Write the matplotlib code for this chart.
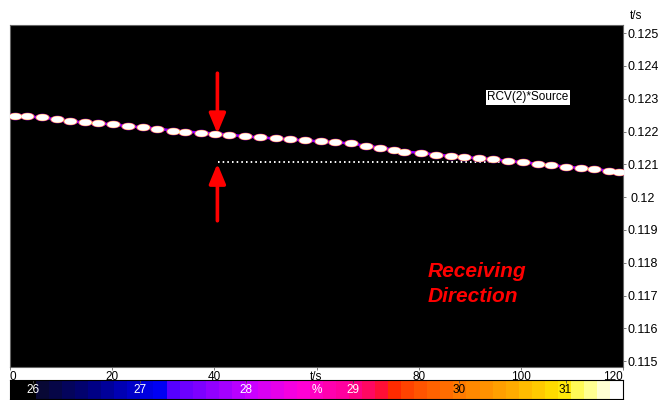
import numpy as np
import matplotlib.pyplot as plt
from matplotlib.colors import LinearSegmentedColormap, BoundaryNorm

plt.rcParams['font.family'] = ['Liberation Sans', 'DejaVu Sans']

# track of detected peaks (time axis, delay in s)
t_pts = [1.0, 3.3, 6.3, 9.2, 11.8, 14.7, 17.3, 20.2, 23.1, 26.1, 28.8, 32.0,
         34.3, 37.3, 40.2, 42.9, 46.1, 49.0, 52.0, 54.9, 57.8, 60.8, 63.7,
         66.7, 69.6, 72.5, 75.1, 77.1, 80.4, 83.3, 86.3, 88.8, 91.8, 94.5,
         97.5, 100.4, 103.3, 105.9, 108.8, 111.8, 114.3, 117.3, 119.2]
y_pts = [0.12249, 0.12246, 0.12243, 0.12237, 0.12231, 0.12228, 0.12225,
         0.12222, 0.12216, 0.12213, 0.12209, 0.12203, 0.12200, 0.12197,
         0.12194, 0.12191, 0.12185, 0.12182, 0.12179, 0.12176, 0.12173,
         0.12170, 0.12167, 0.12164, 0.12157, 0.12151, 0.12145, 0.12139,
         0.12135, 0.12130, 0.12126, 0.12122, 0.12119, 0.12115, 0.12111,
         0.12106, 0.12102, 0.12098, 0.12093, 0.12089, 0.12085, 0.12081,
         0.12078]

# reference level (dotted) and arrows
ref_t = [40.8, 98.4]
ref_y = [0.12106, 0.12106]
arrow_t = 40.6
arrow_down = (0.12378, 0.12194)   # tail, tip
arrow_up = (0.11928, 0.12102)

xticks = [0, 20, 40, 60, 80, 100, 120]
xticklabels = ['0', '20', '40', 't/s', '80', '100', '120']
yticks = [0.115, 0.116, 0.117, 0.118, 0.119, 0.12, 0.121, 0.122, 0.123, 0.124, 0.125]
yticklabels = ['0.115', '0.116', '0.117', '0.118', '0.119', '0.12', '0.121',
               '0.122', '0.123', '0.124', '0.125']

cb_min, cb_max = 25.78, 31.54
cb_ticks = [26, 27, 28, 29, 30, 31]
cb_unit_pos = 28.66

# colour scale
anchors = [(25.78, '#000000'), (25.9, '#000000'), (26.0, '#080830'),
           (26.5, '#000080'), (27.0, '#0000dd'), (27.21, '#0000ff'),
           (27.23, '#5000ff'), (27.6, '#8a00ff'), (28.0, '#c800ff'),
           (28.5, '#ff00d8'), (29.0, '#ff0090'), (29.3, '#ff1030'),
           (29.33, '#ff2000'), (29.6, '#ff5000'), (30.0, '#ff7800'),
           (30.5, '#ffa800'), (31.0, '#ffe600'), (31.2, '#ffff70'),
           (31.4, '#ffffd0'), (31.54, '#ffffff')]
pos = [(v - cb_min) / (cb_max - cb_min) for v, _ in anchors]
cmap = LinearSegmentedColormap.from_list('ramp', list(zip(pos, [c for _, c in anchors])))
n_blocks = 47
bounds = np.linspace(cb_min, cb_max, n_blocks + 1)
norm = BoundaryNorm(bounds, 256)

fig = plt.figure(figsize=(6.59, 4.0), dpi=100)
ax = fig.add_axes([10 / 659, 1 - 367 / 400, 613 / 659, 342 / 400])
ax.set_facecolor('black')
ax.set_xlim(0, 120)
ax.set_ylim(0.11482, 0.12525)

# track: thin purple link, then layered blobs
theta = np.linspace(0, 2 * np.pi, 40)
blob = list(zip(np.cos(theta), 0.52 * np.sin(theta)))
ax.plot(t_pts, y_pts, color=cmap(norm(27.7)), lw=1.8, zorder=2)
ax.scatter(t_pts, y_pts, s=110, marker=blob, color=cmap(norm(28.1)), lw=0, zorder=3)
ax.scatter(t_pts, y_pts, s=95, marker=blob, color=cmap(norm(30.3)), lw=0, zorder=4)
ax.scatter(t_pts, y_pts, s=80, marker=blob, color='white', lw=0, zorder=5)

ax.plot(ref_t, ref_y, color='white', lw=1.4, ls=(0, (0.8, 1.6)), zorder=2)

for tail, tip in (arrow_down, arrow_up):
    ax.annotate('', xy=(arrow_t, tip), xytext=(arrow_t, tail),
                arrowprops=dict(arrowstyle='-|>,head_width=0.5,head_length=1.2',
                                color='#ff0000', lw=2.6, shrinkA=0, shrinkB=0),
                zorder=6)

ax.text(101.4, 0.12304, 'RCV(2)*Source', fontsize=8.5, color='black',
        ha='center', va='center',
        bbox=dict(boxstyle='square,pad=0.12', fc='white', ec='none'))
ax.text(81.8, 0.11735, 'Receiving\nDirection', fontsize=15, color='#ff0000',
        fontweight='bold', fontstyle='italic', ha='left', va='center',
        linespacing=1.4)

ax.set_xticks(xticks)
ax.set_xticklabels(xticklabels)
ax.set_yticks(yticks)
ax.set_yticklabels(yticklabels)
ax.yaxis.tick_right()
ax.tick_params(axis='y', direction='out', length=2.5, width=0.6, color='#666666',
               labelsize=9, pad=12)
ax.tick_params(axis='x', direction='out', length=2, width=0.6, color='#666666',
               labelsize=8.5, pad=1)
for lab in ax.get_yticklabels():
    lab.set_horizontalalignment('center')
xl = ax.get_xticklabels()
xl[0].set_horizontalalignment('left')
xl[-1].set_horizontalalignment('right')
for s in ax.spines.values():
    s.set_color('#666666')
    s.set_linewidth(0.8)
fig.text(636 / 659, 1 - 16 / 400, 't/s', fontsize=8.5, ha='center', va='center')

# colour bar strip
cax = fig.add_axes([10 / 659, 1 - 399 / 400, 613 / 659, 19 / 400])
centers = (bounds[:-1] + bounds[1:]) / 2
cax.pcolormesh(bounds, [0, 1], centers[np.newaxis, :], cmap=cmap, norm=norm)
cax.set_xlim(cb_min, cb_max)
cax.set_ylim(0, 1)
cax.set_yticks([])
cax.set_xticks(cb_ticks)
cax.tick_params(axis='x', direction='in', top=True, bottom=False, labelbottom=False,
                length=2, width=0.6, color='#555555')
for v in cb_ticks:
    cax.text(v, 0.45, str(v), fontsize=8.5, ha='center', va='center',
             color='white' if v < 30 else 'black')
cax.text(cb_unit_pos, 0.45, '%', fontsize=8.5, ha='center', va='center', color='white')
for s in cax.spines.values():
    s.set_color('black')
    s.set_linewidth(0.8)

fig.savefig('out.png', dpi=100)
